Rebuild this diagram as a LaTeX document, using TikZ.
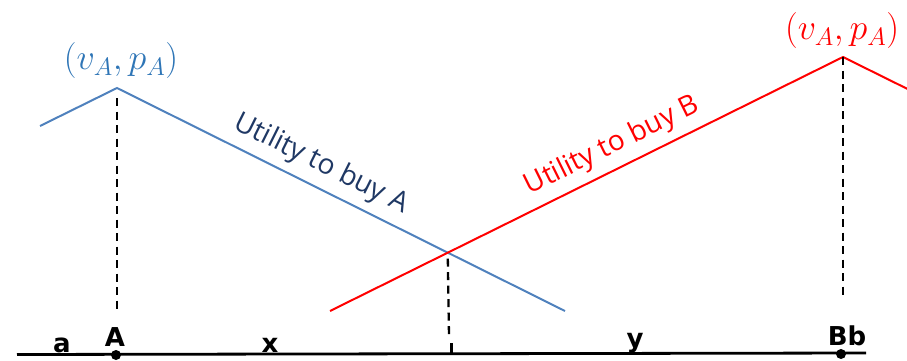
\RequirePackage{fix-cm}
\documentclass[tikz,border=0pt]{standalone}
\usepackage{fontspec}
\newfontfamily\labfont{Open Sans}
\newfontfamily\axfont{DejaVu Sans}
\usetikzlibrary{intersections}
\definecolor{blueline}{HTML}{4F81BD}
\definecolor{bluelab}{HTML}{2E75B6}
\definecolor{navylab}{HTML}{1F3864}
\definecolor{redline}{HTML}{FF0000}
\begin{document}
\begin{tikzpicture}[x=1pt,y=-1pt,
  util/.style={line width=2pt},
  dropline/.style={line width=2.3pt, dash pattern=on 8pt off 5.5pt, black},
  axislab/.style={font=\axfont\bfseries\fontsize{26}{29}\selectfont, anchor=base, inner sep=0pt},
  peaklab/.style={font=\fontsize{36}{40}\selectfont, inner sep=0pt},
  curvelab/.style={font=\labfont\fontsize{28}{32}\selectfont, inner sep=0pt},
  dot/.style={circle, fill=black, inner sep=0pt, minimum size=10pt}]
\useasboundingbox (0,0) rectangle (907,361);
\begin{scope}
\clip (0,0) rectangle (907,361);
% utility curves
\coordinate (Aleft) at (40,126);
\coordinate (Apeak) at (117,88);
\coordinate (Aend) at (565,311);
\coordinate (Bstart) at (330,311);
\coordinate (Bpeak) at (843,57);
\coordinate (Bright) at (910,90.2);
\draw[util, blueline, name path=ua] (Aleft) -- (Apeak) -- (Aend);
\draw[util, redline, name path=ub] (Bstart) -- (Bpeak) -- (Bright);
\path[name intersections={of=ua and ub, by=X}];
% dashed drop lines
\coordinate (Adrop) at (117,312);
\coordinate (Xdrop) at (449,337);
\coordinate (Bdrop) at (843,298);
\draw[dropline] ([yshift=-10pt]Apeak) -- (Adrop);
\draw[dropline] ([yshift=-6pt]X) -- (Xdrop);
\draw[dropline] (Bpeak) -- (Bdrop);
% axis
\coordinate (axL) at (17,354.5);
\coordinate (axR) at (866,353);
\draw[line width=2.8pt, black] (axL) -- (axR);
\node[dot] (Adot) at (116,355) {};
\node[dot] (Bdot) at (841,354) {};
\coordinate (tickTop) at (451.5,343);
\coordinate (tickBot) at (451.5,354);
\draw[line width=2.2pt, black] (tickTop) -- (tickBot);
% axis labels
\node[axislab] (la) at (62,352) {a};
\node[axislab] (lA) at (115,346) {A};
\node[axislab] (lx) at (270,352) {x};
\node[axislab] (ly) at (635,347) {y};
\node[axislab] (lB) at (847,345) {Bb};
% peak labels
\node[peaklab, text=bluelab] (pA) at (121,61) {$(v_A,p_A)$};
\node[peaklab, text=redline] (pB) at (842,31) {$(v_A,p_A)$};
% curve labels
\node[curvelab, text=navylab, rotate=-26.5] (cA) at (321,164) {Utility to buy A};
\node[curvelab, text=redline, rotate=26.3] (cB) at (612,146) {Utility to buy B};
\end{scope}
\end{tikzpicture}
\end{document}
